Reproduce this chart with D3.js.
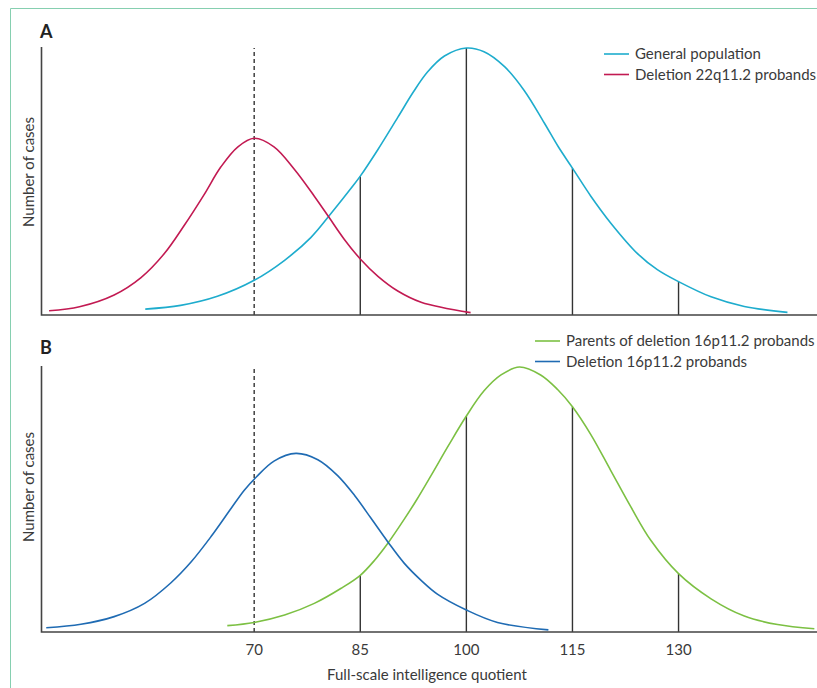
<!DOCTYPE html>
<html>
<head>
<meta charset="utf-8">
<script src="https://cdn.jsdelivr.net/npm/d3@7"></script>
<style>
  body { margin: 0; background: #fff; }
  text { font-family: Lato, "Open Sans", sans-serif; fill: #3a3a3a; }
</style>
</head>
<body>
<div id="chart"></div>
<script>
// curve values (IQ, relative number of cases 0-100)
var generalIQ  = [54.6, 59.6, 64.8, 70, 74.3, 78, 81, 84, 85, 87.5, 90.3, 92.5, 94.5, 96.9, 100, 102.5, 105.4, 108.2, 111, 113, 115, 117.6, 120.4, 124.2, 127, 130, 134.6, 139.3, 145.4];
var generalVal = [2.2, 3.6, 7, 13, 20.5, 29, 38.5, 48.5, 52, 62, 74, 83.5, 91, 97, 100, 98.6, 93, 84, 72, 63, 55, 44.5, 34.5, 23, 17, 12.5, 6.8, 3.2, 1];

var del22IQ  = [41, 45.3, 50.2, 54, 57.3, 60.1, 62.9, 65.3, 67.7, 70, 72.8, 75.7, 78.5, 80.6, 82.7, 85, 87.5, 90.3, 93.6, 100.6];
var del22Val = [1.6, 3.1, 7.5, 14, 23, 33.5, 45, 55.5, 63, 66.2, 63, 54.5, 44.5, 36.5, 28.5, 21, 14.5, 9, 4.8, 0.9];

var parentsIQ  = [66.2, 70, 74.3, 78.5, 82.3, 85, 87, 88.9, 91.2, 93, 95, 97.5, 100, 102.5, 104.9, 107.5, 110.5, 112.9, 115, 117.6, 120.4, 123.3, 126.1, 130, 134.6, 139.3, 144, 149.2];
var parentsVal = [2.4, 3.6, 6.4, 10.8, 16.5, 21.4, 27, 33.5, 42.5, 50, 59, 70.5, 81.5, 91, 97, 100, 97, 91.5, 85, 74.5, 61, 47, 34.5, 22, 12.5, 6, 2.8, 1.2];

var del16IQ  = [40.6, 45.5, 50.2, 54.5, 58.2, 61.1, 63.9, 66.7, 68.6, 70.3, 72.8, 75.9, 79, 81.8, 84.2, 86.5, 88.9, 91.2, 93.6, 95.9, 100, 104.4, 111.6];
var del16Val = [1.6, 2.9, 5.8, 10.8, 18.5, 26.5, 36, 46.5, 53.5, 58.5, 64.5, 67.4, 65, 59, 51.5, 43, 34, 26, 19.5, 14.3, 8.3, 3.6, 0.8];

var tickIQ = [70, 85, 100, 115, 130];
var guideIQ = [85, 100, 115, 130];
var guideA = [52, 100, 55, 12.5];
var guideB = [21.4, 81.5, 85, 22];
var cutoffIQ = 70;

var legendA = ["General population", "Deletion 22q11.2 probands"];
var legendB = ["Parents of deletion 16p11.2 probands", "Deletion 16p11.2 probands"];

var colGeneral = "#1eaccd", colDel22 = "#c21a52", colParents = "#7cc043", colDel16 = "#1f6bb3";

function zip(xs, ys) { return xs.map(function (v, i) { return { iq: v, n: ys[i] } }) }

var W = 817, H = 688;
var svg = d3.select("#chart").append("svg")
    .attr("width", W)
    .attr("height", H);

// frame
svg.append("path")
    .attr("d", "M10.5,688 V8.5 H817")
    .attr("fill", "none")
    .attr("stroke", "#86cfb0")
    .attr("stroke-width", 1);

var x = d3.scaleLinear().domain([40, 150]).range([42, 820]);

function panel(opts) {
    var y = d3.scaleLinear().domain([0, 100]).range([opts.base, opts.top]);
    var g = svg.append("g");

    // dashed cutoff at 70
    g.append("line")
        .attr("x1", x(cutoffIQ)).attr("x2", x(cutoffIQ))
        .attr("y1", opts.base).attr("y2", opts.top)
        .attr("stroke", "#333").attr("stroke-width", 1.4)
        .attr("stroke-dasharray", "4,3");

    // solid guide lines up to the reference curve
    g.selectAll(".guide")
        .data(guideIQ)
        .enter()
        .append("line")
        .attr("x1", function (d) { return x(d) })
        .attr("x2", function (d) { return x(d) })
        .attr("y1", opts.base)
        .attr("y2", function (d, i) { return y(opts.guides[i]) })
        .attr("stroke", "#333").attr("stroke-width", 1.4);

    var line = d3.line()
        .x(function (d) { return x(d.iq) })
        .y(function (d) { return y(d.n) })
        .curve(d3.curveCatmullRom.alpha(0.5));

    opts.series.forEach(function (s) {
        g.append("path")
            .datum(s.data)
            .attr("fill", "none")
            .attr("stroke", s.color)
            .attr("stroke-width", 1.6)
            .attr("d", line);
    });

    // axes
    g.append("path")
        .attr("d", "M41.5," + (opts.top - 1) + " V" + opts.base + " H817")
        .attr("fill", "none")
        .attr("stroke", "#444")
        .attr("stroke-width", 1.6);

    g.append("text")
        .attr("x", 40).attr("y", opts.labelY)
        .style("font-weight", "bold").style("font-size", "18px")
        .style("fill", "#222")
        .text(opts.label);

    g.append("text")
        .attr("transform", "translate(34," + opts.yTitle + ") rotate(-90)")
        .attr("text-anchor", "middle")
        .style("font-size", "15px")
        .text("Number of cases");

    // legend
    opts.series.forEach(function (s, i) {
        var ly = opts.legendY + i * 20.5;
        g.append("line")
            .attr("x1", opts.legendX).attr("x2", opts.legendX + 25)
            .attr("y1", ly).attr("y2", ly)
            .attr("stroke", s.color).attr("stroke-width", 1.6);
        g.append("text")
            .attr("x", opts.legendX + 31).attr("y", ly + 5)
            .style("font-size", "15px")
            .text(s.name);
    });
}

panel({
    base: 315, top: 48, label: "A", labelY: 38, yTitle: 172,
    guides: guideA, legendX: 604, legendY: 54,
    series: [
        { name: legendA[0], color: colGeneral, data: zip(generalIQ, generalVal) },
        { name: legendA[1], color: colDel22, data: zip(del22IQ, del22Val) }
    ]
});

panel({
    base: 632, top: 367, label: "B", labelY: 354, yTitle: 487,
    guides: guideB, legendX: 535, legendY: 341,
    series: [
        { name: legendB[0], color: colParents, data: zip(parentsIQ, parentsVal) },
        { name: legendB[1], color: colDel16, data: zip(del16IQ, del16Val) }
    ]
});

// x tick labels (no tick marks)
svg.append("g")
    .selectAll("text")
    .data(tickIQ)
    .enter()
    .append("text")
    .attr("x", function (d) { return x(d) })
    .attr("y", 655)
    .attr("text-anchor", "middle")
    .style("font-size", "15px")
    .text(function (d) { return d });

svg.append("text")
    .attr("x", 427).attr("y", 680)
    .attr("text-anchor", "middle")
    .style("font-size", "15px")
    .text("Full-scale intelligence quotient");
</script>
</body>
</html>
